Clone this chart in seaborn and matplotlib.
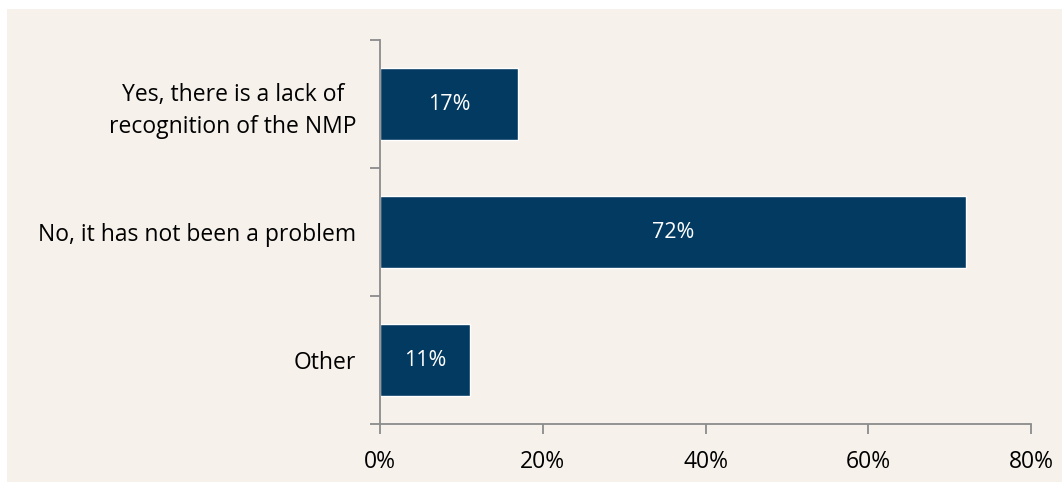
import matplotlib
matplotlib.use("Agg")
import matplotlib.pyplot as plt
import seaborn as sns
import pandas as pd
from matplotlib.patches import Rectangle
from matplotlib.ticker import FixedLocator, PercentFormatter

# survey answers and share of respondents [%]
answers = ["Yes, there is a lack of\nrecognition of the NMP",
           "No, it has not been a problem",
           "Other"]
shares = [17, 72, 11]
x_ticks = [0, 20, 40, 60, 80]

df = pd.DataFrame({"answer": answers, "share": shares})

sns.set_style("white")
plt.rcParams['font.family'] = ['Open Sans', 'DejaVu Sans']

bar_color = "#023A62"
bg_color = "#F6F1EB"
axis_grey = "#8C8C8C"

fig = plt.figure(figsize=(10.62, 4.82), dpi=100)
fig.patch.set_facecolor("white")
# beige panel behind the chart
fig.patches.append(Rectangle((7 / 1062, 0), 1 - 7 / 1062, 1 - 9 / 482,
                             transform=fig.transFigure, facecolor=bg_color,
                             edgecolor="none", zorder=-10))

ax = fig.add_axes([380 / 1062, 1 - 424 / 482, 651 / 1062, 384 / 482])
ax.set_facecolor("none")
ax.set_zorder(5)

sns.barplot(data=df, x="share", y="answer", order=answers, color=bar_color,
            width=0.555, saturation=1, ax=ax)

for patch, val in zip(ax.patches, shares):
    ax.text(patch.get_x() + patch.get_width() / 2,
            patch.get_y() + patch.get_height() / 2,
            f"{val}%", ha="center", va="center", color="white", fontsize=15.5)

ax.set_xlim(0, 80)
ax.set_ylim(len(answers) - 0.5, -0.5)
ax.set_xticks(x_ticks)
ax.xaxis.set_major_formatter(PercentFormatter(decimals=0))
ax.set_xlabel("")
ax.set_ylabel("")

for side in ["top", "right"]:
    ax.spines[side].set_visible(False)
for side in ["left", "bottom"]:
    ax.spines[side].set_color(axis_grey)
    ax.spines[side].set_linewidth(1.3)

# category boundaries get the tick marks, labels sit between them
ax.yaxis.set_minor_locator(FixedLocator([i - 0.5 for i in range(len(answers) + 1)]))
ax.tick_params(axis="y", which="major", left=True, length=0, pad=17,
               labelsize=16.5, labelcolor="black")
ax.tick_params(axis="y", which="minor", left=True, length=7, width=1.3,
               color=axis_grey, direction="out")
ax.tick_params(axis="x", which="major", bottom=True, length=7, width=1.3,
               color=axis_grey, direction="out", pad=12, labelsize=16.5,
               labelcolor="black")
for lab in ax.get_yticklabels():
    lab.set_multialignment("center")
    lab.set_linespacing(1.45)

fig.savefig("out.png", dpi=100, facecolor=fig.get_facecolor())
